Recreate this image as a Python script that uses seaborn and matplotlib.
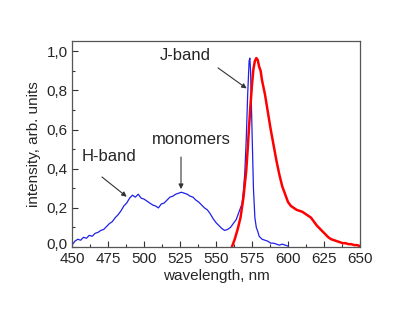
import matplotlib
matplotlib.use("Agg")
import matplotlib.pyplot as plt
import matplotlib.transforms as mtransforms
import seaborn as sns
import pandas as pd
from matplotlib.ticker import MultipleLocator, FuncFormatter

# ---- data ----
blue_wl = [450, 452, 454, 456, 458, 460, 462, 464, 466, 468, 470, 472, 474, 476, 478,
           480, 482, 484, 486, 488, 490, 492, 494, 496, 498, 500, 502, 504, 506, 508,
           510, 512, 514, 516, 518, 520, 522, 524, 526, 528, 530, 532, 534, 536, 538,
           540, 542, 544, 546, 548, 550, 552, 554, 556, 558, 560, 562, 564, 565, 566,
           567, 568, 569, 570, 571, 572, 573, 573.5, 574, 575, 576, 577, 578, 579, 580,
           582, 584, 586, 588, 590, 592, 594, 596, 598, 600]
blue_int = [0.01, 0.03, 0.04, 0.035, 0.05, 0.045, 0.06, 0.055, 0.07, 0.075, 0.085, 0.09, 0.105, 0.12, 0.13,
            0.15, 0.165, 0.185, 0.21, 0.225, 0.25, 0.265, 0.255, 0.27, 0.25, 0.245, 0.235, 0.225, 0.215, 0.21,
            0.2, 0.22, 0.225, 0.24, 0.255, 0.26, 0.27, 0.275, 0.28, 0.275, 0.27, 0.26, 0.255, 0.24, 0.23,
            0.215, 0.2, 0.19, 0.17, 0.145, 0.125, 0.11, 0.095, 0.085, 0.09, 0.1, 0.12, 0.14, 0.16, 0.18,
            0.2, 0.22, 0.28, 0.38, 0.55, 0.78, 0.95, 0.965, 0.9, 0.6, 0.3, 0.15, 0.1, 0.08, 0.055,
            0.04, 0.035, 0.03, 0.02, 0.02, 0.015, 0.01, 0.015, 0.01, 0.005]

red_wl = [561, 563, 565, 567, 569, 571, 572, 573, 574, 575, 576, 577, 578, 579, 580,
          581, 582, 584, 586, 588, 590, 592, 594, 596, 598, 600, 602, 604, 606, 608,
          610, 612, 614, 616, 618, 620, 622, 624, 626, 628, 630, 632, 634, 636, 638,
          640, 642, 644, 646, 648, 650]
red_int = [0.0, 0.04, 0.09, 0.15, 0.25, 0.39, 0.5, 0.62, 0.73, 0.83, 0.91, 0.95, 0.965, 0.955, 0.92,
           0.9, 0.85, 0.78, 0.69, 0.6, 0.52, 0.44, 0.37, 0.31, 0.27, 0.23, 0.21, 0.2, 0.19, 0.185,
           0.18, 0.17, 0.16, 0.15, 0.13, 0.11, 0.095, 0.08, 0.065, 0.05, 0.04, 0.035, 0.03, 0.025, 0.02,
           0.02, 0.015, 0.015, 0.01, 0.01, 0.005]

xticks = [450, 475, 500, 525, 550, 575, 600, 625, 650]
yticks = [0.0, 0.2, 0.4, 0.6, 0.8, 1.0]

sns.set_style("ticks")
plt.rcParams["font.family"] = ["Liberation Sans", "DejaVu Sans"]

fig = plt.figure(figsize=(4.0, 3.29), dpi=100)
ax = fig.add_axes([0.18, 0.249, 0.72, 0.625])

blue_df = pd.DataFrame({"wl": blue_wl, "I": blue_int})
red_df = pd.DataFrame({"wl": red_wl, "I": red_int})
sns.lineplot(data=blue_df, x="wl", y="I", ax=ax, color="#1f1fe8", lw=0.9, sort=False)
sns.lineplot(data=red_df, x="wl", y="I", ax=ax, color="#ff0000", lw=1.8, sort=False)

ax.set_xlim(450, 650)
ax.set_ylim(0, 1.05)
ax.set_xticks(xticks)
ax.set_yticks(yticks)
ax.xaxis.set_minor_locator(MultipleLocator(12.5))
ax.yaxis.set_minor_locator(MultipleLocator(0.1))
ax.yaxis.set_major_formatter(FuncFormatter(lambda v, p: f"{v:.1f}".replace(".", ",")))
ax.tick_params(which="major", direction="in", length=4, width=0.8, labelsize=11, color="#333333")
ax.tick_params(axis="x", which="major", pad=3.5)
ax.tick_params(axis="y", which="major", pad=3)
ax.tick_params(which="minor", direction="in", length=2, width=0.8, color="#333333")
for s in ax.spines.values():
    s.set_color("#555555")
    s.set_linewidth(0.9)

ax.set_xlabel("wavelength, nm", fontsize=11, labelpad=2)
ax.set_ylabel("intensity, arb. units", fontsize=11, labelpad=4)

# nudge the "0,0" label slightly up so it does not collide with "450"
fig.canvas.draw()
ylabs = ax.get_yticklabels()
ylabs[0].set_transform(ylabs[0].get_transform() +
                       mtransforms.ScaledTranslation(0, 2.5 / 72, fig.dpi_scale_trans))

ap = dict(arrowstyle="-|>", color="#333333", lw=0.8, mutation_scale=7, shrinkA=0, shrinkB=0)
ax.text(528.5, 0.98, "J-band", fontsize=12, ha="center", va="center")
ax.annotate("", xy=(571.3, 0.81), xytext=(551.4, 0.915), arrowprops=ap)
ax.text(532.6, 0.55, "monomers", fontsize=12, ha="center", va="center")
ax.annotate("", xy=(525.7, 0.296), xytext=(525.7, 0.46), arrowprops=ap)
ax.text(475.7, 0.465, "H-band", fontsize=12, ha="center", va="center")
ax.annotate("", xy=(488, 0.257), xytext=(470.8, 0.358), arrowprops=ap)

fig.savefig("out.png", dpi=100)
